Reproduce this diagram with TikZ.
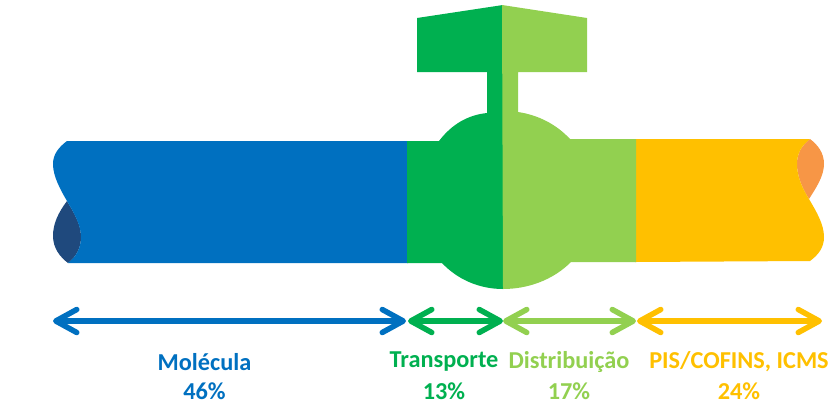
\documentclass[tikz,border=0pt]{standalone}
\usepackage{fontspec}
\setmainfont{Carlito}
\usetikzlibrary{arrows.meta}
\definecolor{cblue}{HTML}{0070C0}
\definecolor{cdark}{HTML}{1F497D}
\definecolor{cgreen}{HTML}{00B050}
\definecolor{clight}{HTML}{92D050}
\definecolor{cyellow}{HTML}{FFC000}
\definecolor{corange}{HTML}{F79646}
\tikzset{
  span/.style={line width=5.5pt,line cap=round,
    {Straight Barb[length=21pt,width=23pt,round,line width=5.5pt]}-{Straight Barb[length=21pt,width=23pt,round,line width=5.5pt]}},
  lab/.style={font=\fontsize{24.3}{28}\selectfont\bfseries,anchor=center,inner sep=0pt}
}
\begin{document}
\begin{tikzpicture}[x=1pt,y=-1pt]
\useasboundingbox (0,0) rectangle (829,405);
% dark back of pipe, left
\fill[cdark] (67,201) .. controls (58,213) and (53,224) .. (53,236) .. controls (53,248) and (60,257) .. (68,263) .. controls (76,257) and (81,248) .. (81,237) .. controls (81,224) and (74,213) .. (67,201) -- cycle;
% blue pipe
\fill[cblue] (67,141) .. controls (59,147) and (53,154) .. (53,164) .. controls (53,176) and (60,189) .. (67,201) .. controls (74,213) and (81,225) .. (81,237) .. controls (81,248) and (76,257) .. (68,263) -- (408,263) -- (408,141) -- cycle;
% orange back of pipe, right
\fill[corange] (810,139) .. controls (818,145) and (824,153) .. (824,164) .. controls (824,176) and (816,188) .. (809,199) .. controls (802,188) and (797,176) .. (797,164) .. controls (797,153) and (802,145) .. (810,139) -- cycle;
% yellow pipe
\fill[cyellow] (635,139) -- (810,139) .. controls (802,145) and (797,153) .. (797,164) .. controls (797,176) and (802,188) .. (809,199) .. controls (816,211) and (824,224) .. (824,237) .. controls (824,248) and (818,255) .. (810,261) -- (635,262) -- cycle;
% green left half of the valve
\fill[cgreen] (503,5) -- (417,18) -- (417,72) -- (487,72) -- (487,113) .. controls (468,115) and (452,124) .. (439,141) -- (407,141) -- (407,263) -- (442,263) .. controls (458,280) and (480,289) .. (503,289) -- cycle;
% light green right half of the valve
\fill[clight] (502,5) -- (587,18) -- (587,72) -- (518,72) -- (518,112) .. controls (538,115) and (556,124) .. (570,139) -- (636,139) -- (636,262) -- (571,262) .. controls (553,280) and (528,289) .. (503,289) -- cycle;
% span ends
\coordinate (a0) at (53,321);
\coordinate (a1) at (406,321);
\coordinate (b0) at (408,321);
\coordinate (b1) at (503,321);
\coordinate (c0) at (503,321);
\coordinate (c1) at (636,321);
\coordinate (d0) at (637,321);
\coordinate (d1) at (822,321);
\draw[span,cblue] (a0) -- (a1);
\draw[span,cgreen] (b0) -- (b1);
\draw[span,clight] (c0) -- (c1);
\draw[span,cyellow] (d0) -- (d1);
% labels
\node[lab,text=cblue] (m1) at (204.5,362) {Molécula};
\node[lab,text=cblue] (m2) at (204.5,391) {46\%};
\node[lab,text=cgreen] (t1) at (444,362) {Transporte};
\node[lab,text=cgreen] (t2) at (444,391) {13\%};
\node[lab,text=clight] (d1l) at (569,362) {Distribuição};
\node[lab,text=clight] (d2l) at (569,391) {17\%};
\node[lab,text=cyellow] (p1) at (739,362) {PIS/COFINS, ICMS};
\node[lab,text=cyellow] (p2) at (739,391) {24\%};
\end{tikzpicture}
\end{document}
